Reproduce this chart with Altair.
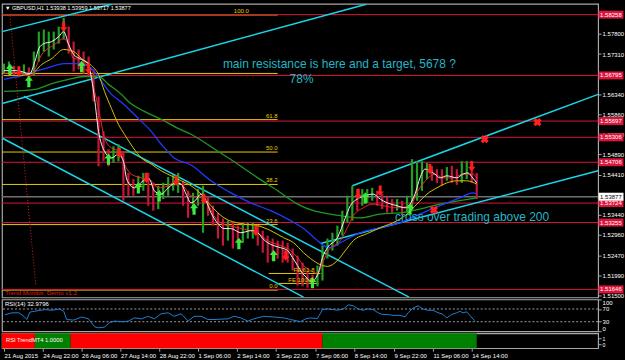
import json
import altair as alt
import pandas as pd

# ---------------- values ----------------
bar_x = list(range(2, 478, 5))
close = [1.5694, 1.5699, 1.5689, 1.5684, 1.5694, 1.5684, 1.5718, 1.5749, 1.5756, 1.5761,
         1.5766, 1.5778, 1.5797, 1.5749, 1.5725, 1.5718, 1.5713, 1.5701, 1.5629, 1.5533,
         1.5497, 1.5478, 1.5485, 1.5493, 1.5450, 1.5414, 1.5409, 1.5414, 1.5430, 1.5426,
         1.5390, 1.5394, 1.5402, 1.5414, 1.5421, 1.5421, 1.5402, 1.5373, 1.5378, 1.5390,
         1.5390, 1.5366, 1.5342, 1.5323, 1.5311, 1.5311, 1.5306, 1.5301, 1.5301, 1.5306,
         1.5311, 1.5301, 1.5282, 1.5275, 1.5267, 1.5265, 1.5263, 1.5258, 1.5239, 1.5220,
         1.5198, 1.5186, 1.5179, 1.5196, 1.5246, 1.5270, 1.5282, 1.5294, 1.5342, 1.5354,
         1.5390, 1.5382, 1.5390, 1.5390, 1.5394, 1.5387, 1.5378, 1.5370, 1.5366, 1.5366,
         1.5358, 1.5361, 1.5382, 1.5414, 1.5450, 1.5459, 1.5445, 1.5440, 1.5430, 1.5440,
         1.5438, 1.5430, 1.5442, 1.5450, 1.5435, 1.5388]
high = [1.5708, 1.5713, 1.5703, 1.5701, 1.5706, 1.5699, 1.5737, 1.5785, 1.5790, 1.5785,
        1.5785, 1.5797, 1.5818, 1.5797, 1.5761, 1.5742, 1.5737, 1.5725, 1.5694, 1.5629,
        1.5545, 1.5502, 1.5509, 1.5514, 1.5497, 1.5445, 1.5430, 1.5438, 1.5445, 1.5445,
        1.5421, 1.5414, 1.5421, 1.5435, 1.5440, 1.5445, 1.5426, 1.5402, 1.5397, 1.5406,
        1.5414, 1.5390, 1.5366, 1.5349, 1.5335, 1.5330, 1.5325, 1.5318, 1.5325, 1.5325,
        1.5325, 1.5318, 1.5306, 1.5294, 1.5287, 1.5282, 1.5282, 1.5277, 1.5263, 1.5246,
        1.5229, 1.5210, 1.5200, 1.5222, 1.5270, 1.5287, 1.5301, 1.5318, 1.5354, 1.5390,
        1.5414, 1.5406, 1.5406, 1.5406, 1.5409, 1.5402, 1.5394, 1.5387, 1.5382, 1.5382,
        1.5378, 1.5390, 1.5478, 1.5473, 1.5473, 1.5469, 1.5462, 1.5454, 1.5454, 1.5459,
        1.5462, 1.5454, 1.5473, 1.5473, 1.5462, 1.5445]
low = [1.5684, 1.5687, 1.5679, 1.5675, 1.5679, 1.5665, 1.5679, 1.5713, 1.5737, 1.5725,
       1.5742, 1.5756, 1.5766, 1.5732, 1.5689, 1.5694, 1.5684, 1.5677, 1.5617, 1.5461,
       1.5473, 1.5461, 1.5469, 1.5473, 1.5378, 1.5390, 1.5390, 1.5397, 1.5402, 1.5366,
       1.5354, 1.5358, 1.5382, 1.5390, 1.5402, 1.5397, 1.5366, 1.5337, 1.5354, 1.5366,
       1.5301, 1.5342, 1.5318, 1.5287, 1.5270, 1.5282, 1.5263, 1.5282, 1.5277, 1.5287,
       1.5287, 1.5270, 1.5253, 1.5229, 1.5234, 1.5239, 1.5229, 1.5229, 1.5210, 1.5174,
       1.5172, 1.5169, 1.5169, 1.5172, 1.5186, 1.5239, 1.5258, 1.5270, 1.5294, 1.5325,
       1.5330, 1.5354, 1.5366, 1.5373, 1.5378, 1.5366, 1.5358, 1.5349, 1.5349, 1.5354,
       1.5344, 1.5349, 1.5354, 1.5378, 1.5402, 1.5430, 1.5426, 1.5421, 1.5414, 1.5426,
       1.5421, 1.5416, 1.5421, 1.5430, 1.5421, 1.5382]

white_x = [2, 15, 28, 33, 37, 42, 50, 57, 62, 67, 72, 80, 87, 90, 93, 97, 100, 103, 110, 117,
           122, 125, 128, 133, 142, 148, 153, 160, 167, 175, 180, 185, 190, 194, 200, 205, 210, 217, 223, 230,
           240, 250, 257, 262, 267, 273, 280, 287, 292, 297, 302, 307, 311, 315, 318, 322, 327, 337, 345, 350,
           357, 365, 373, 380, 387, 397, 405, 410, 415, 420, 425, 430, 435, 440, 447, 457, 463, 468, 473, 477]
white_p = [1.5691, 1.5691, 1.5684, 1.5713, 1.5744, 1.5756, 1.5761, 1.5773, 1.5785, 1.5754,
           1.5730, 1.5718, 1.5706, 1.5672, 1.5624, 1.5545, 1.5514, 1.5497, 1.5481, 1.5490,
           1.5473, 1.5433, 1.5418, 1.5409, 1.5426, 1.5430, 1.5402, 1.5394, 1.5409, 1.5421,
           1.5418, 1.5394, 1.5373, 1.5378, 1.5394, 1.5378, 1.5349, 1.5323, 1.5311, 1.5311,
           1.5301, 1.5306, 1.5301, 1.5287, 1.5277, 1.5270, 1.5265, 1.5258, 1.5241, 1.5222,
           1.5203, 1.5191, 1.5181, 1.5191, 1.5205, 1.5241, 1.5265, 1.5289, 1.5337, 1.5366,
           1.5382, 1.5390, 1.5394, 1.5382, 1.5373, 1.5366, 1.5361, 1.5370, 1.5394, 1.5433,
           1.5454, 1.5450, 1.5442, 1.5433, 1.5438, 1.5433, 1.5442, 1.5445, 1.5433, 1.5421]

red_x = [2, 15, 28, 40, 53, 62, 67, 72, 80, 87, 93, 97, 100, 103, 110, 118, 123, 130, 140, 150,
         157, 167, 175, 183, 190, 200, 207, 213, 220, 237, 250, 258, 267, 280, 290, 297, 303, 310, 317, 323,
         328, 340, 347, 353, 363, 373, 383, 397, 410, 418, 427, 435, 443, 453, 463, 473, 477]
red_p = [1.5684, 1.5687, 1.5677, 1.5730, 1.5754, 1.5768, 1.5754, 1.5720, 1.5718, 1.5694,
         1.5641, 1.5600, 1.5562, 1.5529, 1.5505, 1.5497, 1.5466, 1.5442, 1.5433, 1.5426,
         1.5409, 1.5414, 1.5426, 1.5411, 1.5390, 1.5385, 1.5370, 1.5342, 1.5325, 1.5313,
         1.5306, 1.5299, 1.5282, 1.5270, 1.5258, 1.5241, 1.5222, 1.5210, 1.5203, 1.5234,
         1.5258, 1.5282, 1.5313, 1.5342, 1.5361, 1.5370, 1.5366, 1.5361, 1.5366, 1.5402,
         1.5430, 1.5442, 1.5433, 1.5433, 1.5442, 1.5442, 1.5433]

yel_x = [2, 15, 30, 40, 50, 62, 72, 80, 90, 97, 103, 110, 117, 123, 132, 140, 150, 160, 170, 180,
         190, 200, 210, 223, 240, 257, 270, 283, 293, 303, 310, 320, 327, 337, 345, 353, 367, 380, 397, 407,
         417, 427, 437, 447, 457, 467, 477]
yel_p = [1.5679, 1.5679, 1.5684, 1.5706, 1.5720, 1.5742, 1.5737, 1.5720, 1.5703, 1.5682,
         1.5641, 1.5600, 1.5562, 1.5538, 1.5505, 1.5481, 1.5466, 1.5450, 1.5438, 1.5426,
         1.5414, 1.5394, 1.5366, 1.5337, 1.5323, 1.5318, 1.5306, 1.5289, 1.5277, 1.5253,
         1.5239, 1.5224, 1.5220, 1.5234, 1.5258, 1.5282, 1.5299, 1.5313, 1.5330, 1.5346,
         1.5370, 1.5394, 1.5409, 1.5421, 1.5426, 1.5426, 1.5418]

blue_x = [2, 17, 33, 50, 62, 73, 83, 90, 100, 110, 120, 137, 150, 160, 173, 190, 210, 230, 250, 270,
          290, 303, 317, 323, 330, 340, 360, 380, 400, 420, 440, 460, 473, 477]
blue_p = [1.5670, 1.5677, 1.5689, 1.5701, 1.5708, 1.5708, 1.5706, 1.5696, 1.5665, 1.5634,
          1.5615, 1.5576, 1.5545, 1.5514, 1.5481, 1.5464, 1.5426, 1.5397, 1.5373, 1.5354,
          1.5330, 1.5311, 1.5282, 1.5270, 1.5265, 1.5277, 1.5301, 1.5313, 1.5325, 1.5346,
          1.5366, 1.5385, 1.5397, 1.5394]

green_x = [2, 33, 50, 67, 83, 97, 107, 120, 127, 143, 160, 177, 190, 217, 237, 257, 277, 297, 313, 330,
           340, 360, 380, 400, 420, 440, 460, 477]
green_p = [1.5641, 1.5646, 1.5660, 1.5670, 1.5677, 1.5677, 1.5658, 1.5634, 1.5617, 1.5593,
           1.5574, 1.5552, 1.5538, 1.5497, 1.5466, 1.5433, 1.5402, 1.5370, 1.5354, 1.5346,
           1.5342, 1.5337, 1.5346, 1.5349, 1.5358, 1.5370, 1.5378, 1.5385]

rsi_x = [3, 10, 17, 22, 25, 28, 33, 43, 50, 58, 62, 65, 72, 80, 87, 93, 97, 103, 108, 113,
         122, 127, 133, 140, 147, 153, 160, 167, 173, 180, 187, 193, 200, 207, 213, 227, 233, 240, 247, 253,
         263, 273, 283, 290, 300, 305, 310, 317, 322, 327, 333, 337, 343, 348, 353, 358, 363, 367, 373, 378,
         382, 387, 393, 400, 405, 408, 413, 418, 423, 428, 433, 437, 443, 447, 452, 457, 460, 463, 467, 470, 475]
rsi_v = [52, 58, 58, 47, 37, 60, 63, 68, 66, 70, 63, 37, 35, 45, 39, 14, 11, 13, 27, 32,
         30, 32, 42, 39, 47, 39, 55, 58, 47, 55, 32, 47, 47, 37, 37, 39, 47, 42, 32, 39,
         47, 45, 42, 37, 30, 39, 42, 40, 68, 70, 68, 66, 70, 83, 80, 70, 66, 70, 68, 58,
         53, 53, 50, 50, 45, 58, 73, 80, 70, 66, 66, 60, 53, 42, 53, 58, 63, 58, 61, 50, 33]

up_x = [8, 27, 80, 107, 137, 158, 193, 238, 273, 312, 365, 410]
up_p = [1.5694, 1.5665, 1.5701, 1.5478, 1.5409, 1.5390, 1.5358, 1.5275, 1.5246, 1.5181, 1.5385, 1.5358]
dn_x = [17, 62, 87, 118, 145, 175, 203, 255, 285, 358, 380, 430, 472]
dn_p = [1.5689, 1.5797, 1.5696, 1.5493, 1.5433, 1.5426, 1.5382, 1.5306, 1.5246, 1.5394, 1.5402, 1.5454, 1.5461]
cross_x = [434, 485, 538]
cross_p = [1.5356, 1.5526, 1.5567]

tl_x1 = [0, 0, 22, 0, 352, 320]
tl_p1 = [1.5785, 1.5612, 1.5629, 1.5529, 1.5414, 1.5275]
tl_x2 = [110, 366, 409, 303, 599, 599]
tl_p2 = [1.5851, 1.5851, 1.5146, 1.5146, 1.5634, 1.5450]
dot_x1, dot_p1, dot_x2, dot_p2 = [8], [1.5823], [34], [1.5174]

red_levels = [1.58258, 1.56795, 1.55697, 1.55306, 1.54706, 1.53724, 1.53255, 1.51646]
bid_level = 1.53877
fib_names = ["100.0", "", "61.8", "50.0", "38.2", "23.6", "0.0"]
fib_levels = [1.58250, 1.56843, 1.55732, 1.54952, 1.54172, 1.53206, 1.51630]
fib_label_x = [248, 277, 277, 277, 277, 277, 277]
fib_end = [277] * 7
fe_names = ["FE 61.8", "FE 100.0"]
fe_levels = [1.5203, 1.5179]
fe_x1 = [268, 278]
fe_x2 = [320, 318]

price_ticks = [1.57800, 1.57310, 1.56340, 1.55860, 1.55380, 1.54890, 1.54410,
               1.53440, 1.52960, 1.52470, 1.51990, 1.51500]
time_pos = [2, 41, 80, 119, 158, 197, 236, 275, 315, 354, 394, 433, 472]
time_lab = ["21 Aug 2015", "24 Aug 22:00", "26 Aug 06:00", "27 Aug 14:00", "28 Aug 22:00",
            "1 Sep 06:00", "2 Sep 14:00", "3 Sep 22:00", "7 Sep 06:00", "8 Sep 14:00",
            "9 Sep 22:00", "11 Sep 06:00", "14 Sep 14:00"]
trend_x1 = [0, 33, 69, 322]
trend_x2 = [33, 69, 322, 477]
trend_state = ["down", "up", "down", "up"]

header = "\u25BC GBPUSD,H1  1.53938 1.53959 1.53717 1.53877"
note1 = "main resistance is here and a target, 5678 ?"
note2 = "78%"
note3 = "cross over trading above 200"
note_x = [222, 289, 395]
note_p = [1.5708, 1.5672, 1.5339]

# ---------------- styling ----------------
W, MAIN_H, RSI_H, TR_H = 599, 295, 32, 15
YMIN, YMAX = 1.51453, 1.58518
SMALL = "Liberation Sans"
BIG = "Liberation Sans"
FS = 6
CRIMSON = "#DC143C"
YEL = "#E8CC00"
CYAN = "#18D6E8"
TEXTC = "#24B6C6"
GRAY = "#A8A8A8"

xs = alt.Scale(domain=[0, W], nice=False, zero=False)
ys = alt.Scale(domain=[YMIN, YMAX], nice=False, zero=False)
yaxis = alt.Axis(orient="right", values=price_ticks, format=".5f", labelColor="white",
                 labelFont=SMALL, labelFontSize=FS, tickColor=GRAY, tickSize=3, domain=False,
                 labelPadding=1, grid=False, title=None, labelOverlap=False)


def X(f):
    return alt.X(f, scale=xs, axis=None)


def Y(f):
    return alt.Y(f, scale=ys, axis=yaxis)


layers = []

# horizontal levels
lv = pd.DataFrame({"p": red_levels})
fib = pd.DataFrame({"name": fib_names, "p": fib_levels, "lx": fib_label_x, "x0": [0] * 7, "x1": fib_end})
layers.append(alt.Chart(fib).mark_rule(color=YEL, strokeWidth=1).encode(x=X("x0:Q"), x2="x1:Q", y=Y("p:Q")))
layers.append(alt.Chart(lv).mark_rule(color=CRIMSON, strokeWidth=1).encode(y=Y("p:Q")))
layers.append(alt.Chart(pd.DataFrame({"p": [bid_level]})).mark_rule(color="#707070", strokeWidth=1.5).encode(y=Y("p:Q")))
fe = pd.DataFrame({"name": fe_names, "p": fe_levels, "x1": fe_x1, "x2": fe_x2})
layers.append(alt.Chart(fe).mark_rule(color=YEL, strokeWidth=1).encode(x=X("x1:Q"), x2="x2:Q", y=Y("p:Q")))

# trend lines
tl = pd.DataFrame({"x1": tl_x1, "p1": tl_p1, "x2": tl_x2, "p2": tl_p2})
layers.append(alt.Chart(tl).mark_rule(color=CYAN, strokeWidth=1.5, clip=True).encode(
    x=X("x1:Q"), y=Y("p1:Q"), x2="x2:Q", y2="p2:Q"))
dl = pd.DataFrame({"x1": dot_x1, "p1": dot_p1, "x2": dot_x2, "p2": dot_p2})
layers.append(alt.Chart(dl).mark_rule(color="#E02020", strokeWidth=1, strokeDash=[1, 2], clip=True).encode(
    x=X("x1:Q"), y=Y("p1:Q"), x2="x2:Q", y2="p2:Q"))

# candles
cd = pd.DataFrame({"x": bar_x, "close": close, "high": high, "low": low})
cd["prev"] = cd["close"].shift(1).fillna(cd["close"])
cd["dir"] = ["up" if c >= p else "down" for c, p in zip(cd["close"], cd["prev"])]
layers.append(alt.Chart(cd).mark_rule(strokeWidth=2.2).encode(
    x=X("x:Q"), y=Y("low:Q"), y2="high:Q",
    color=alt.Color("dir:N", scale=alt.Scale(domain=["up", "down"], range=["#23A023", "#C8163A"]), legend=None)))


def ma(xv, pv, color, w=1.0):
    df = pd.DataFrame({"x": xv, "p": pv})
    return alt.Chart(df).mark_line(color=color, strokeWidth=w, interpolate="monotone").encode(x=X("x:Q"), y=Y("p:Q"))


layers += [ma(green_x, green_p, "#1E9A1E", 1.3), ma(blue_x, blue_p, "#1E3CFF", 1.3),
           ma(yel_x, yel_p, "#D8C400", 1.0), ma(red_x, red_p, "#F02828", 1.0),
           ma(white_x, white_p, "#F0F0F0", 1.0)]

# signals
UP = "M0,-1L0.72,-0.12L0.28,-0.12L0.28,1L-0.28,1L-0.28,-0.12L-0.72,-0.12Z"
DN = "M0,1L0.72,0.12L0.28,0.12L0.28,-1L-0.28,-1L-0.28,0.12L-0.72,0.12Z"
layers.append(alt.Chart(pd.DataFrame({"x": up_x, "p": up_p})).mark_point(
    shape=UP, filled=True, size=130, color="#3EE83E", opacity=1).encode(x=X("x:Q"), y=Y("p:Q")))
layers.append(alt.Chart(pd.DataFrame({"x": dn_x, "p": dn_p})).mark_point(
    shape=DN, filled=True, size=110, color="#FF1E1E", opacity=1).encode(x=X("x:Q"), y=Y("p:Q")))
layers.append(alt.Chart(pd.DataFrame({"x": cross_x, "p": cross_p})).mark_point(
    shape="cross", angle=45, filled=True, size=70, color="#FF2020", opacity=1).encode(x=X("x:Q"), y=Y("p:Q")))

# fib labels
layers.append(alt.Chart(fib).mark_text(align="right", baseline="bottom", dy=-1, color=YEL, font=SMALL,
                                       fontSize=FS).encode(x=X("lx:Q"), y=Y("p:Q"), text="name:N"))
layers.append(alt.Chart(fe).mark_text(align="right", baseline="bottom", dy=0, dx=-6, color=YEL, font=SMALL,
                                      fontSize=FS).encode(x=X("x2:Q"), y=Y("p:Q"), text="name:N"))

# annotations
notes = pd.DataFrame({"t": [note1, note2, note3], "x": note_x, "p": note_p})
layers.append(alt.Chart(notes).mark_text(align="left", baseline="middle", color=TEXTC, font=BIG,
                                         fontSize=12).encode(x=X("x:Q"), y=Y("p:Q"), text="t:N"))
layers.append(alt.Chart(pd.DataFrame({"t": [header]})).mark_text(
    align="left", baseline="top", color="white", font=SMALL, fontSize=5.6).encode(
    x=alt.value(3), y=alt.value(2), text="t:N"))
layers.append(alt.Chart(pd.DataFrame({"t": ["Trend Monitor, Demo v1.2"]})).mark_text(
    align="left", baseline="middle", color="#E01818", font=SMALL, fontSize=6.3).encode(
    x=alt.value(3), y=alt.value(MAIN_H - 4), text="t:N"))

# price boxes on the axis
boxes = pd.DataFrame({"p": red_levels + [bid_level],
                      "lab": ["%.5f" % v for v in red_levels + [bid_level]],
                      "kind": ["red"] * len(red_levels) + ["bid"]})
layers.append(alt.Chart(boxes).mark_tick(orient="horizontal", size=25, thickness=8, opacity=1).encode(
    x=alt.value(612), y=Y("p:Q"),
    color=alt.Color("kind:N", scale=alt.Scale(domain=["red", "bid"], range=[CRIMSON, "#FFFFFF"]), legend=None)))
layers.append(alt.Chart(boxes).mark_text(align="left", baseline="middle", font=SMALL, fontSize=FS).encode(
    x=alt.value(601), y=Y("p:Q"), text="lab:N",
    color=alt.Color("kind:N", scale=alt.Scale(domain=["red", "bid"], range=["#FFFFFF", "#000000"]), legend=None)))

main = alt.layer(*layers).properties(width=W, height=MAIN_H).resolve_scale(color="independent")

# ---------------- RSI panel ----------------
rs = alt.Scale(domain=[0, 100], nice=False, zero=False)
raxis = alt.Axis(orient="right", values=[0, 30, 70, 100], labelColor="white", labelFont=SMALL,
                 labelFontSize=FS, tickColor=GRAY, tickSize=3, domain=False, labelPadding=1,
                 grid=False, title=None, labelFlush=True, labelOverlap=False)
rsi_df = pd.DataFrame({"x": rsi_x, "v": rsi_v})
rsi = alt.layer(
    alt.Chart(pd.DataFrame({"v": [30, 70]})).mark_rule(color="#C8C8C8", strokeDash=[2, 2], strokeWidth=0.8).encode(
        y=alt.Y("v:Q", scale=rs, axis=raxis)),
    alt.Chart(rsi_df).mark_line(color="#1E7FD8", strokeWidth=1).encode(
        x=X("x:Q"), y=alt.Y("v:Q", scale=rs, axis=raxis)),
    alt.Chart(pd.DataFrame({"t": ["RSI(14) 32.9796"]})).mark_text(
        align="left", baseline="top", color="white", font=SMALL, fontSize=FS).encode(
        x=alt.value(3), y=alt.value(2), text="t:N"),
).properties(width=W, height=RSI_H)

# ---------------- RSI TrendMT4 panel ----------------
ts = alt.Scale(domain=[-0.7, 1.8], nice=False, zero=False)
taxis = alt.Axis(orient="right", values=[0, 1], labelColor="white", labelFont=SMALL, labelFontSize=5.3,
                 tickColor=GRAY, tickSize=3, domain=False, labelPadding=1, grid=False, title=None,
                 labelOverlap=False)
xaxis = alt.Axis(orient="bottom", values=time_pos, labelAlign="left", labelColor="white", labelFont=SMALL,
                 labelFontSize=FS, tickColor=GRAY, tickSize=3, domain=False, labelPadding=1, grid=False,
                 title=None, labelOverlap=False, labelBound=False, labelFlush=False,
                 labelExpr="%s[indexof(%s, datum.value)]" % (json.dumps(time_lab), json.dumps(time_pos)))
tr_df = pd.DataFrame({"x1": trend_x1, "x2": trend_x2, "state": trend_state})
trend = alt.layer(
    alt.Chart(tr_df).mark_rect().encode(
        x=alt.X("x1:Q", scale=xs, axis=xaxis), x2="x2:Q",
        y=alt.YDatum(-0.7, type="quantitative", scale=ts, axis=taxis), y2=alt.Y2Datum(1.8),
        color=alt.Color("state:N", scale=alt.Scale(domain=["down", "up"], range=["#FF0000", "#008000"]),
                        legend=None)),
    alt.Chart(pd.DataFrame({"t": ["RSI TrendMT4 1.0000"]})).mark_text(
        align="left", baseline="middle", color="white", font=SMALL, fontSize=5.8).encode(
        x=alt.value(4), y=alt.value(7), text="t:N"),
).properties(width=W, height=TR_H)

chart = alt.vconcat(main, rsi, trend, spacing=2, bounds="flush", background="#000000",
                    padding={"left": 0, "top": 2, "right": 0, "bottom": 0}).resolve_scale(
    color="independent").configure_view(stroke=GRAY, strokeWidth=1.2)

chart.save("out.html", embed_options={"renderer": "svg", "actions": False})
